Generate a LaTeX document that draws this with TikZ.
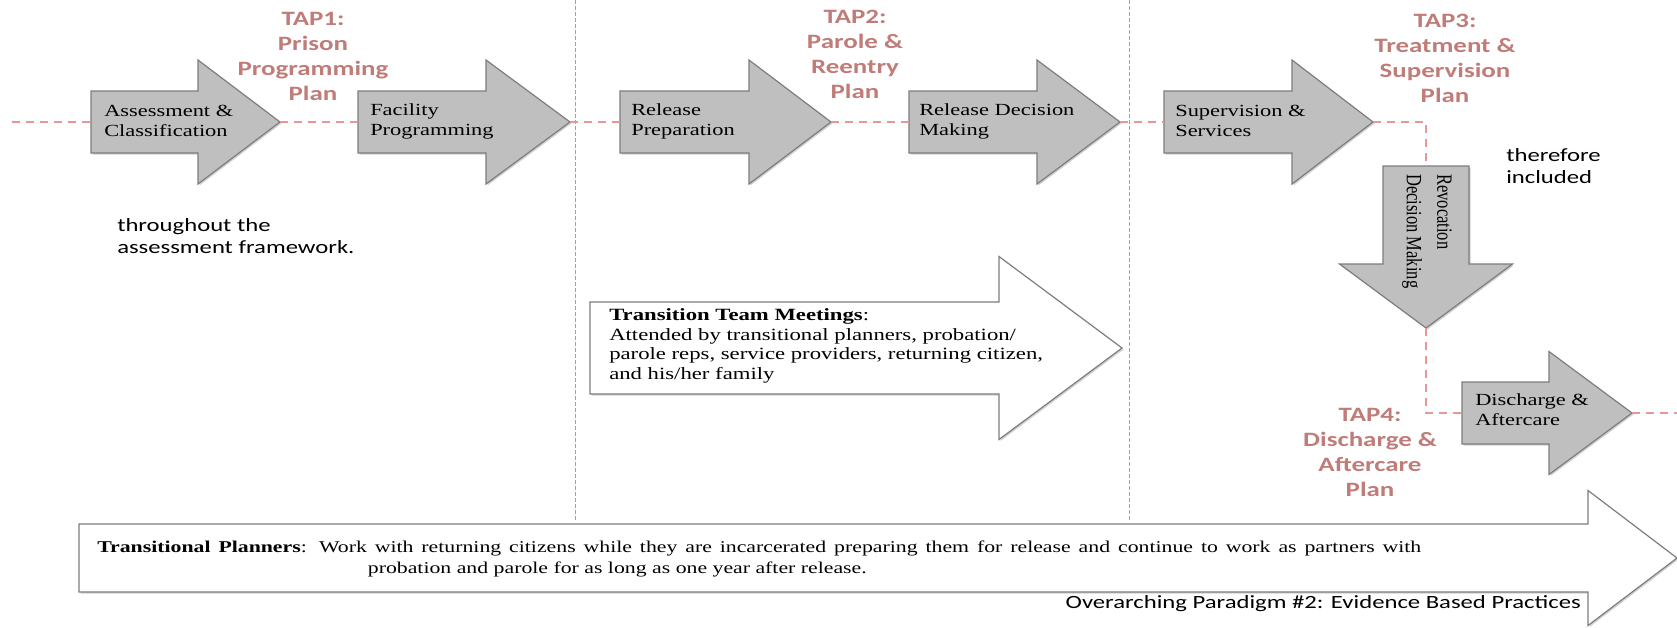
\documentclass[tikz,border=0pt]{standalone}
\usepackage{fontspec}
\setmainfont{Liberation Serif}
\newfontfamily\tapfont{Carlito}
\usetikzlibrary{shadows}

\definecolor{boxgray}{RGB}{191,191,191}
\definecolor{edgegray}{RGB}{125,125,125}
\definecolor{tapred}{RGB}{192,124,120}
\definecolor{tappink}{RGB}{232,150,150}
\definecolor{linegray}{RGB}{160,160,160}

\tikzset{
  pics/rarrow/.style n args={5}{code={
      \path[#5] (0,#3) -- (#2,#3) -- (#2,#4) -- (#1,0) -- (#2,-#4) -- (#2,-#3) -- (0,-#3) -- cycle;
      \coordinate (-tail) at (0,0);
      \coordinate (-tip) at (#1,0);
  }},
  pics/darrow/.style n args={5}{code={
      \path[#5] (#3,0) -- (#3,#2) -- (#4,#2) -- (0,#1) -- (-#4,#2) -- (-#3,#2) -- (-#3,0) -- cycle;
      \coordinate (-tail) at (0,0);
      \coordinate (-tip) at (0,#1);
  }},
}

\begin{document}
\begin{tikzpicture}[x=1pt, y=-1pt,
    widetext/.style={xscale=1.32},
    steptext/.style={widetext, font=\fontsize{17}{20}\selectfont, align=left, anchor=west, inner sep=0pt},
    taptext/.style={widetext, font=\tapfont\bfseries\fontsize{20.4}{25}\selectfont, text=tapred, align=center, inner sep=0pt},
    notetext/.style={widetext, font=\tapfont\fontsize{18.7}{22}\selectfont, align=left, anchor=west, inner sep=0pt},
    grayarrow/.style={fill=boxgray, draw=edgegray, line width=1.2pt,
      drop shadow={shadow xshift=1.5pt, shadow yshift=-1.5pt, opacity=0.3, fill=black!60}},
    whitearrow/.style={fill=white, draw=edgegray, line width=1.2pt,
      drop shadow={shadow xshift=1.5pt, shadow yshift=-1.5pt, opacity=0.3, fill=black!60}},
    tapline/.style={draw=tappink, dash pattern=on 8pt off 6pt, line width=1.5pt},
    phaseline/.style={draw=linegray, dash pattern=on 4pt off 2pt, line width=1pt}]

        \useasboundingbox (0,0) rectangle (1677,627);

    % Phase borders
    \draw[phaseline] (575,0) -- (575,522);
    \draw[phaseline] (1129,0) -- (1129,522);

        % Steps
        \pic (asmt) at (91,122) {rarrow={189}{107}{31}{62}{grayarrow}};
        \pic (fac) at (358,122) {rarrow={212}{128}{31}{62}{grayarrow}};
        \pic (prep) at (620,122) {rarrow={211}{129}{31}{62}{grayarrow}};
        \pic (dec) at (909,122) {rarrow={211}{128}{31}{62}{grayarrow}};
        \pic (supv) at (1164,122) {rarrow={209}{128}{31}{62}{grayarrow}};
        \pic (revoc) at (1426,166) {darrow={162}{98}{43}{86.5}{grayarrow}};
        \pic (disch) at (1462,413) {rarrow={170}{87}{31}{61.5}{grayarrow}};

        % Long arrows
        \pic (team) at (590,348) {rarrow={532}{409}{46}{91.5}{whitearrow}};
        \pic (plan) at (79,558) {rarrow={1598}{1509}{34}{67.5}{whitearrow}};

    % Timeline
    \coordinate (lstart) at (12,122);
    \coordinate (rend) at (1677,413);
    \draw[tapline] (lstart) -- (asmt-tail);
    \draw[tapline] (asmt-tip) -- (fac-tail);
    \draw[tapline] (fac-tip) -- (prep-tail);
    \draw[tapline] (prep-tip) -- (dec-tail);
    \draw[tapline] (dec-tip) -- (supv-tail);
    \draw[tapline] (supv-tip) -| (revoc-tail);
    \draw[tapline] (revoc-tip) |- (disch-tail);
    \draw[tapline] (disch-tip) -- (rend);

        % Step labels
        \node[steptext] (asmttext) at (104,121) {Assessment \&\\Classification};
        \node[steptext] (factext) at (370,121) {Facility\\Programming};
        \node[steptext] (preptext) at (631,121) {Release\\Preparation};
        \node[steptext] (dectext) at (919,121) {Release Decision\\Making};
        \node[steptext] (supvtext) at (1175,121) {Supervision \&\\Services};
        \node[steptext, font=\fontsize{16.5}{23}\selectfont, rotate=-90] (revoctext) at (1427,174) {Revocation\\Decision Making};
        \node[steptext] (dischtext) at (1475,410) {Discharge \&\\Aftercare};

    % Plans
    \node[taptext] (tap1) at (313,56) {TAP1:\\Prison\\Programming\\Plan};
    \node[taptext] (tap2) at (855,54) {TAP2:\\Parole \&\\Reentry\\Plan};
    \node[taptext] (tap3) at (1445,58) {TAP3:\\Treatment \&\\Supervision\\Plan};
    \node[taptext] (tap4) at (1370,452) {TAP4:\\Discharge \&\\Aftercare\\Plan};

        % Notes
        \node[notetext] (framenote) at (117,236) {throughout the\\assessment framework.};
        \node[notetext] (inclnote) at (1506,166) {therefore\\included};
        \node[steptext, font=\fontsize{17.2}{19.5}\selectfont] (teamtext) at (609,346) {\textbf{Transition Team Meetings}:\\Attended by transitional planners, probation/\\parole reps, service providers, returning citizen,\\and his/her family};
        \node[steptext, font=\fontsize{16.5}{21}\selectfont] (plantext) at (97,559) {\makebox[1003pt][s]{\textbf{Transitional Planners}: Work with returning citizens while they are incarcerated preparing them for release and continue to work as partners with}\\\hspace*{205pt}probation and parole for as long as one year after release.};
        \node[notetext, anchor=east] (paradigm) at (1581,604) {Overarching Paradigm \#2: Evidence Based Practices};
\end{tikzpicture}
\end{document}
